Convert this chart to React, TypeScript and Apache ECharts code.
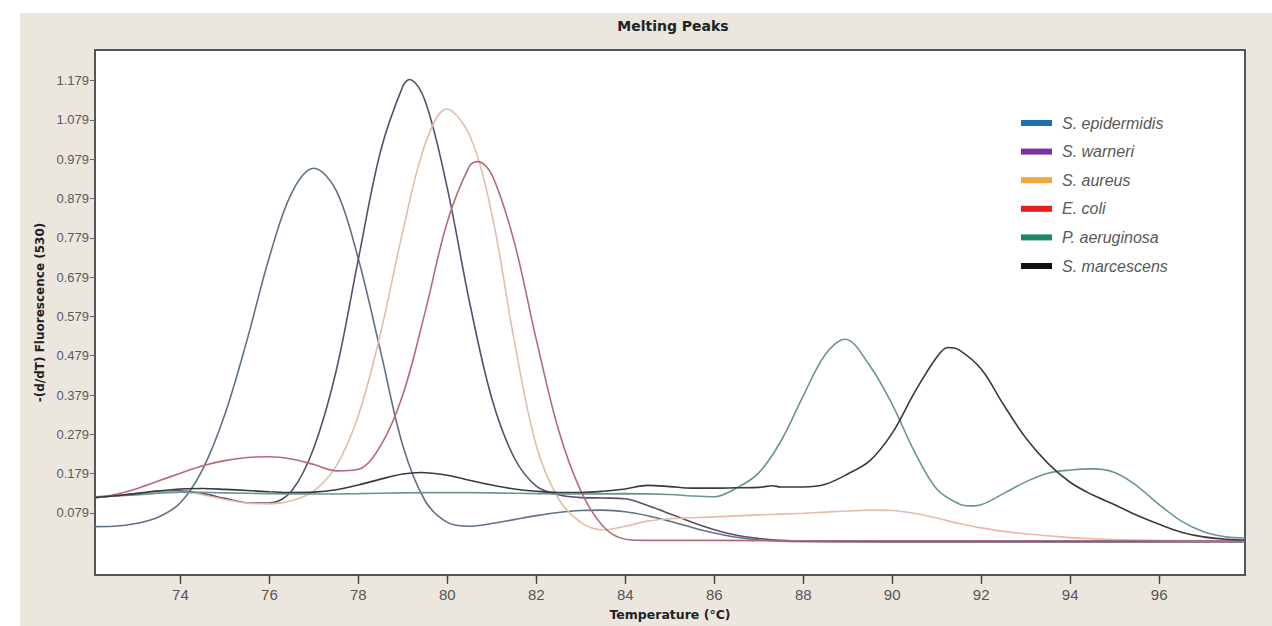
import React, { useEffect, useRef } from "react";
import * as echarts from "echarts";

const seriesNames = ["S. epidermidis", "S. warneri", "S. aureus", "E. coli", "P. aeruginosa", "S. marcescens"];
const legendColors = ["#1f6fae", "#7b2fa5", "#f2a93b", "#e51d1d", "#1b8a5e", "#111111"];
const lineColors = ["#5f7186", "#5b4d6e", "#e3bcaa", "#b56a7a", "#6a9592", "#3a3a3a"];

const xTicks = [74, 76, 78, 80, 82, 84, 86, 88, 90, 92, 94, 96];
const yTicks = [0.079, 0.179, 0.279, 0.379, 0.479, 0.579, 0.679, 0.779, 0.879, 0.979, 1.079, 1.179];

const sEpidermidis: [number, number][] = [
  [72.08, 0.044], [72.5, 0.045], [73.0, 0.052], [73.5, 0.068], [74.0, 0.105], [74.5, 0.19], [75.0, 0.33],
  [75.5, 0.52], [76.0, 0.73], [76.5, 0.893], [77.0, 0.956], [77.5, 0.9], [78.0, 0.725], [78.5, 0.49],
  [79.0, 0.25], [79.5, 0.11], [80.0, 0.055], [80.5, 0.045], [81.0, 0.052], [81.5, 0.062], [82.0, 0.072],
  [82.5, 0.08], [83.0, 0.085], [83.5, 0.086], [84.0, 0.082], [84.5, 0.072], [85.0, 0.058], [85.5, 0.042],
  [86.0, 0.028], [86.5, 0.017], [87.0, 0.01], [87.5, 0.007], [88.5, 0.006], [90.0, 0.006], [92.0, 0.006],
  [94.0, 0.006], [96.0, 0.006], [97.93, 0.006],
];
const sWarneri: [number, number][] = [
  [72.08, 0.118], [72.5, 0.122], [73.0, 0.128], [73.5, 0.133], [74.0, 0.135], [74.5, 0.128], [75.0, 0.116],
  [75.5, 0.105], [76.0, 0.104], [76.5, 0.135], [77.0, 0.245], [77.5, 0.44], [78.0, 0.725], [78.5, 1.0],
  [79.0, 1.165], [79.15, 1.182], [79.5, 1.128], [80.0, 0.905], [80.5, 0.615], [81.0, 0.37], [81.5, 0.22],
  [82.0, 0.147], [82.5, 0.125], [83.0, 0.118], [83.5, 0.117], [84.0, 0.115], [84.5, 0.098], [85.0, 0.077],
  [85.5, 0.055], [86.0, 0.036], [86.5, 0.022], [87.0, 0.014], [87.5, 0.009], [88.0, 0.007], [90.0, 0.006],
  [92.0, 0.006], [94.0, 0.006], [96.0, 0.006], [97.93, 0.006],
];
const sAureus: [number, number][] = [
  [72.08, 0.118], [72.5, 0.122], [73.0, 0.127], [73.5, 0.132], [74.0, 0.133], [74.5, 0.125], [75.0, 0.113],
  [75.5, 0.104], [76.0, 0.102], [76.5, 0.11], [77.0, 0.135], [77.5, 0.198], [78.0, 0.327], [78.5, 0.537],
  [79.0, 0.796], [79.5, 1.017], [79.98, 1.107], [80.5, 1.04], [81.0, 0.84], [81.5, 0.52], [82.0, 0.25],
  [82.5, 0.115], [83.0, 0.055], [83.5, 0.036], [84.0, 0.045], [84.5, 0.058], [85.0, 0.064], [86.0, 0.069],
  [87.0, 0.074], [88.0, 0.078], [88.5, 0.081], [89.0, 0.084], [89.5, 0.086], [90.0, 0.085], [90.5, 0.078],
  [91.0, 0.066], [91.5, 0.052], [92.0, 0.041], [92.5, 0.032], [93.0, 0.026], [93.5, 0.021], [94.0, 0.016],
  [94.5, 0.013], [95.0, 0.011], [96.0, 0.009], [97.93, 0.008],
];
const eColi: [number, number][] = [
  [72.08, 0.118], [72.5, 0.125], [73.0, 0.14], [73.5, 0.16], [74.0, 0.18], [74.5, 0.199], [75.0, 0.212],
  [75.5, 0.22], [76.0, 0.222], [76.5, 0.216], [77.0, 0.202], [77.5, 0.186], [78.0, 0.19],
  [78.5, 0.25], [79.0, 0.38], [79.5, 0.59], [80.0, 0.82], [80.5, 0.962], [80.68, 0.973], [81.0, 0.94],
  [81.5, 0.77], [82.0, 0.52], [82.5, 0.29], [83.0, 0.135], [83.5, 0.045], [84.0, 0.012], [84.5, 0.009],
  [86.0, 0.009], [88.0, 0.008], [90.0, 0.008], [92.0, 0.008], [94.0, 0.008], [96.0, 0.008], [97.93, 0.008],
];
const pAeruginosa: [number, number][] = [
  [72.08, 0.12], [73.0, 0.125], [74.0, 0.132], [75.0, 0.13], [76.0, 0.128], [77.0, 0.127], [78.0, 0.128],
  [79.0, 0.13], [80.0, 0.131], [81.0, 0.13], [82.0, 0.128], [83.0, 0.127], [84.0, 0.128], [85.0, 0.126],
  [85.5, 0.122], [86.0, 0.12], [86.5, 0.142], [87.0, 0.181], [87.5, 0.262], [88.0, 0.377], [88.5, 0.483],
  [88.94, 0.521], [89.5, 0.453], [90.0, 0.355], [90.5, 0.235], [91.0, 0.14], [91.5, 0.102], [91.75, 0.097],
  [92.0, 0.1], [92.5, 0.128], [93.0, 0.158], [93.5, 0.18], [94.0, 0.188], [94.5, 0.191], [95.0, 0.182],
  [95.5, 0.148], [96.0, 0.1], [96.5, 0.058], [97.0, 0.031], [97.5, 0.018], [97.93, 0.015],
];
const sMarcescens: [number, number][] = [
  [72.08, 0.118], [72.5, 0.122], [73.0, 0.128], [73.5, 0.135], [74.0, 0.14], [74.5, 0.141], [75.0, 0.139],
  [75.5, 0.136], [76.0, 0.133], [76.5, 0.131], [77.0, 0.132], [77.5, 0.138], [78.0, 0.15], [78.5, 0.165],
  [79.0, 0.178], [79.4, 0.182], [80.0, 0.175], [80.5, 0.162], [81.0, 0.15], [81.5, 0.14], [82.0, 0.134],
  [82.5, 0.131], [83.0, 0.131], [83.5, 0.134], [84.0, 0.14], [84.5, 0.149], [85.0, 0.146], [85.5, 0.142],
  [86.0, 0.142], [86.5, 0.143], [87.0, 0.144], [87.3, 0.148], [87.5, 0.145], [88.0, 0.145], [88.5, 0.152],
  [89.0, 0.178], [89.5, 0.212], [90.0, 0.282], [90.5, 0.385], [91.0, 0.475], [91.25, 0.5], [91.5, 0.494],
  [92.0, 0.445], [92.5, 0.355], [93.0, 0.27], [93.5, 0.205], [94.0, 0.157], [94.5, 0.125], [95.0, 0.1],
  [95.5, 0.073], [96.0, 0.05], [96.5, 0.03], [97.0, 0.018], [97.5, 0.012], [97.93, 0.01],
];

const allSeries = [sEpidermidis, sWarneri, sAureus, eColi, pAeruginosa, sMarcescens];

const X_MIN = 72.08;
const X_MAX = 97.93;
const Y_MIN = -0.079;
const Y_MAX = 1.257;

export default function App() {
  const ref = useRef<HTMLDivElement>(null);
  useEffect(() => {
    document.body.style.margin = "0";
    if (!ref.current) return;
    const chart = echarts.init(ref.current, undefined, { renderer: "svg" });

    chart.setOption({
      animation: false,
      backgroundColor: "#ebe7df",
      graphic: [
        { type: "rect", silent: true, shape: { x: 0, y: 0, width: 20, height: 626 }, style: { fill: "#ffffff" } },
        { type: "rect", silent: true, shape: { x: 0, y: 0, width: 1272, height: 13 }, style: { fill: "#ffffff" } },
      ],
      title: {
        text: "Melting Peaks",
        left: 668,
        top: 14,
        textAlign: "center",
        textStyle: { fontFamily: "DejaVu Sans", fontWeight: "bold", fontSize: 14, color: "#222" },
      },
      grid: {
        left: 95,
        right: 27,
        top: 50,
        bottom: 44,
        show: true,
        backgroundColor: "#ffffff",
        borderColor: "#555555",
        borderWidth: 2,
      },
      legend: {
        orient: "vertical",
        left: 1016,
        top: 110,
        icon: "rect",
        itemWidth: 31,
        itemHeight: 6,
        itemGap: 12.6,
        textStyle: {
          fontFamily: "Liberation Sans",
          fontStyle: "italic",
          fontSize: 16,
          lineHeight: 16,
          color: "#585858",
          padding: [0, 0, 0, 5],
        },
        data: seriesNames.map((n, i) => ({ name: n, itemStyle: { color: legendColors[i] } })),
      },
      xAxis: [
        {
          type: "value",
          position: "bottom",
          min: X_MIN,
          max: X_MAX,
          axisLine: { show: true, onZero: false, lineStyle: { color: "#555", width: 2 } },
          splitLine: { show: false },
          axisTick: { show: true, customValues: xTicks, length: 9, lineStyle: { color: "#444", width: 1.3 } },
          axisLabel: {
            customValues: xTicks,
            margin: 12,
            fontFamily: "Liberation Sans Narrow, Liberation Sans",
            fontSize: 15,
            color: "#555",
          },
          name: "Temperature (°C)",
          nameLocation: "middle",
          nameGap: 33,
          nameTextStyle: { fontFamily: "DejaVu Sans", fontWeight: "bold", fontSize: 12.5, color: "#222" },
        },
        {
          type: "value",
          position: "bottom",
          offset: 0,
          min: X_MIN,
          max: X_MAX,
          axisLine: { show: false, onZero: false },
          splitLine: { show: false },
          axisLabel: { show: false },
          axisTick: { show: true, customValues: xTicks, length: 6, lineStyle: { color: "#444", width: 1.3 } },
        },
      ],
      yAxis: {
        type: "value",
        min: Y_MIN,
        max: Y_MAX,
        axisLine: { show: false, onZero: false },
        splitLine: { show: false },
        axisTick: { show: true, customValues: yTicks, length: 5, lineStyle: { color: "#666" } },
        axisLabel: {
          customValues: yTicks,
          margin: 6,
          fontFamily: "Liberation Sans",
          fontSize: 13,
          color: "#5a5a5a",
          formatter: (v: number) => v.toFixed(3),
        },
        name: "-(d/dT) Fluorescence (530)",
        nameLocation: "middle",
        nameGap: 49,
        nameRotate: 90,
        nameTextStyle: { fontFamily: "DejaVu Sans", fontWeight: "bold", fontSize: 12, color: "#222" },
      },
      series: allSeries.map((d, i) => ({
        name: seriesNames[i],
        type: "line",
        data: d,
        xAxisIndex: 0,
        smooth: 0.35,
        showSymbol: false,
        symbol: "none",
        itemStyle: { color: legendColors[i] },
        lineStyle: { color: lineColors[i], width: 1.6 },
      })),
    });
    return () => chart.dispose();
  }, []);
  return <div ref={ref} style={{ width: 1272, height: 626 }} />;
}
